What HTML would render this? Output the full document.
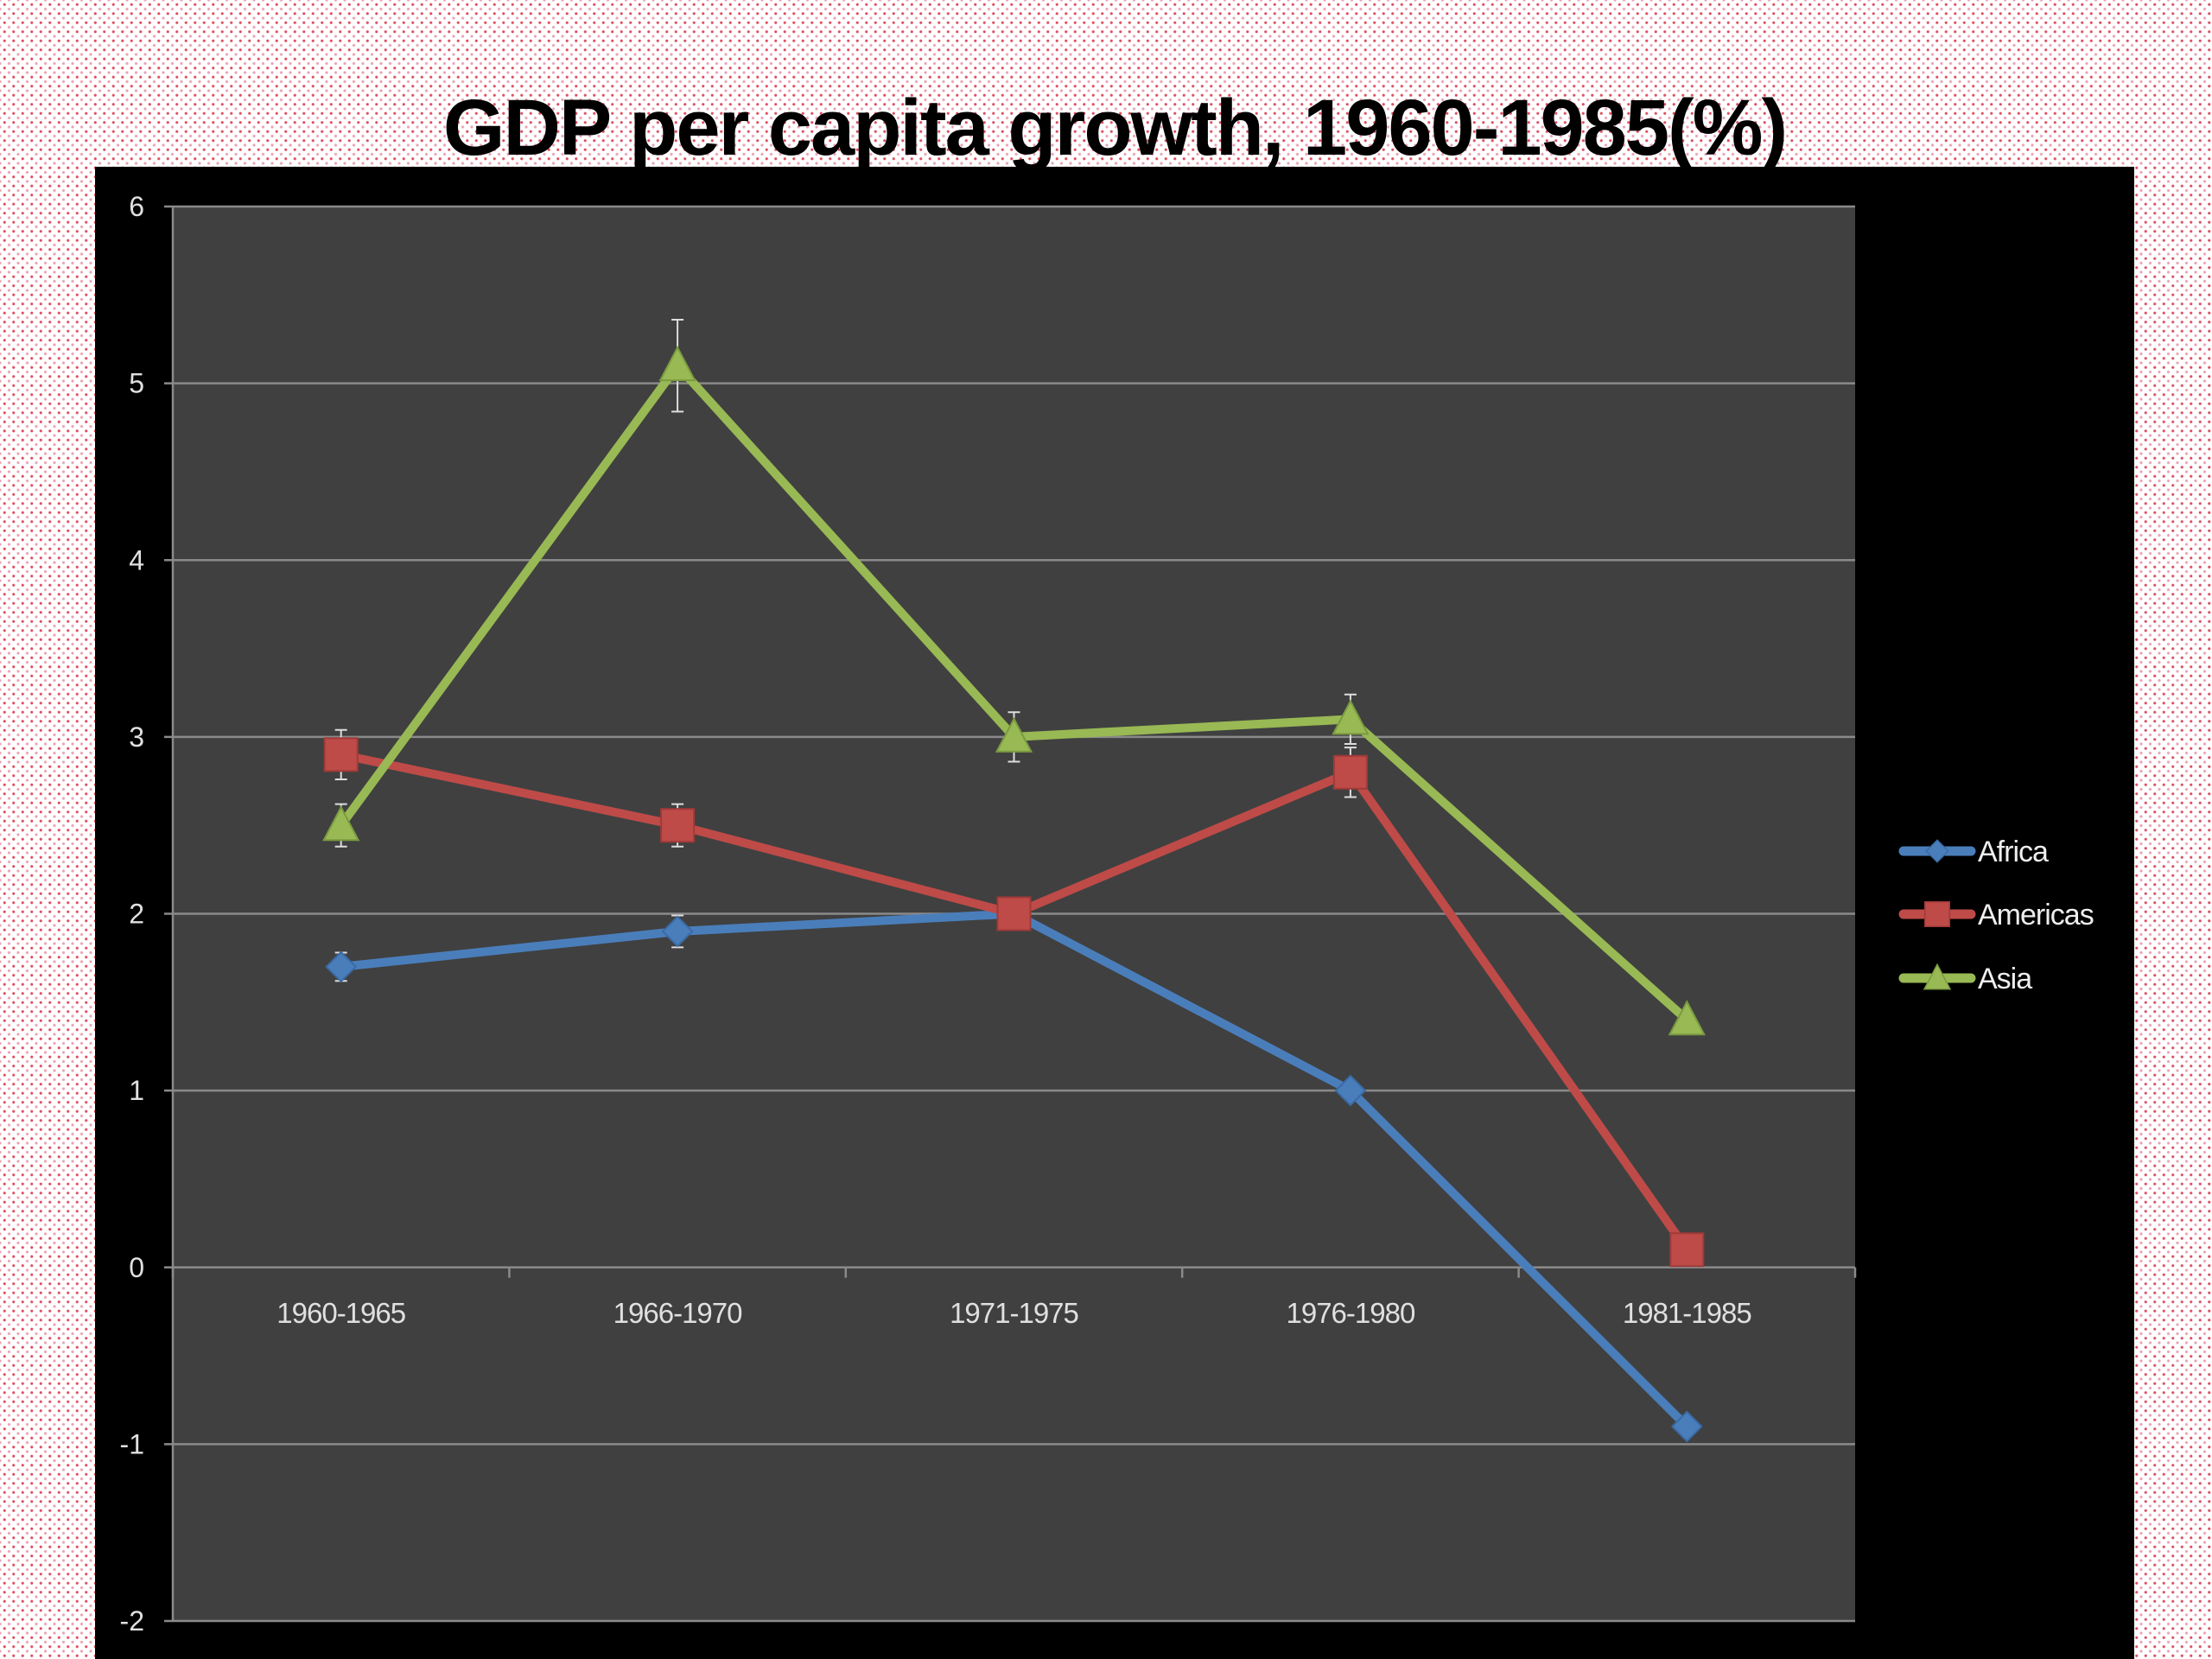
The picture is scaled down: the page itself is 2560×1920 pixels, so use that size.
<!DOCTYPE html>
<html><head><meta charset="utf-8"><style>
html,body{margin:0;padding:0}
body{width:2560px;height:1920px;position:relative;overflow:hidden;background-color:#fff;
background-image:radial-gradient(circle,#e05060 1.3px,transparent 1.9px),radial-gradient(circle,#e8a0b0 1.3px,transparent 1.9px);
background-size:10.5px 10.5px;background-position:0 0,5.25px 5.25px;}
#title{position:absolute;left:0;width:2580px;top:96px;text-align:center;font:bold 92px "Liberation Sans",sans-serif;color:#000;z-index:2;letter-spacing:-2px}
svg{position:absolute;left:0;top:0}
</style></head><body>
<div id="title">GDP per capita growth, 1960-1985(%)</div>
<svg id="chart" width="2560" height="1920"></svg>
<script>
const categories=["1960-1965","1966-1970","1971-1975","1976-1980","1981-1985"];
const africa=[1.7,1.9,2.0,1.0,-0.9];
const americas=[2.9,2.5,2.0,2.8,0.1];
const asia=[2.5,5.1,3.0,3.1,1.4];
const africaErr=[0.08,0.09,0,0,0];
const americasErr=[0.14,0.12,0,0.14,0];
const asiaErr=[0.12,0.26,0.14,0.14,0];
const yTicks=[-2,-1,0,1,2,3,4,5,6];
const seriesNames=["Africa","Americas","Asia"];

const NS="http://www.w3.org/2000/svg";
const svg=document.getElementById('chart');
const PL=200,PR=2147,PT=239,PB=1876,YMIN=-2,YMAX=6;
const y=v=>PT+(YMAX-v)/(YMAX-YMIN)*(PB-PT);
const bw=(PR-PL)/categories.length;
const x=i=>PL+bw*(i+0.5);
function el(t,a,p){const e=document.createElementNS(NS,t);for(const k in a)e.setAttribute(k,a[k]);(p||svg).appendChild(e);return e;}
function tx(s,a){const e=el('text',a);e.textContent=s;return e;}

const bg=el('rect',{x:110,y:193,width:2360,height:1727,fill:'#000'});


const pa=el('rect',{x:PL,y:PT,width:PR-PL,height:PB-PT,fill:'#404040'});



yTicks.forEach(v=>{
  const g=el('line',{x1:PL-10,x2:PR,y1:y(v),y2:y(v),stroke:'#8a8a8a','stroke-width':2.5});
  
  
  const t=tx(String(v),{x:167,y:y(v)+11,'text-anchor':'end',fill:'#e0e0e0','font-size':32,'font-family':'Liberation Sans, sans-serif'});
  
  
});
const ya=el('line',{x1:PL,x2:PL,y1:PT,y2:PB,stroke:'#8a8a8a','stroke-width':2.5});


for(let i=0;i<=categories.length;i++){
  const tk=el('line',{x1:PL+bw*i,x2:PL+bw*i,y1:y(0),y2:y(0)+12,stroke:'#8a8a8a','stroke-width':2.5});
  
  
}
categories.forEach((c,i)=>{
  const t=tx(c,{x:x(i),y:y(0)+64,'text-anchor':'middle',fill:'#e0e0e0','font-size':33,'font-family':'Liberation Sans, sans-serif','letter-spacing':-1});
  
  
});

const colors=['#4a7ebb','#be4b48','#98b954'];
const data=[africa,americas,asia];
const errs=[africaErr,americasErr,asiaErr];
function marker(k,cx,cy,g){
  if(k===0) return el('polygon',{points:`${cx},${cy-17} ${cx+17},${cy} ${cx},${cy+17} ${cx-17},${cy}`,fill:colors[0],stroke:'#3a6aa5','stroke-width':2},g);
  if(k===1) return el('rect',{x:cx-19,y:cy-19,width:38,height:38,fill:colors[1],stroke:'#a03a38','stroke-width':2},g);
  return el('polygon',{points:`${cx},${cy-21} ${cx+20},${cy+17} ${cx-20},${cy+17}`,fill:colors[2],stroke:'#7a9a40','stroke-width':2},g);
}
data.forEach((d,k)=>{
  const g=el('g',{});
  
  
  const ln=el('polyline',{points:d.map((v,i)=>x(i)+','+y(v)).join(' '),fill:'none',stroke:colors[k],'stroke-width':10,'stroke-linejoin':'miter'},g);
  
  
  d.forEach((v,i)=>{
    const e=errs[k][i];
    if(e>0){
      const eb=el('path',{d:`M${x(i)},${y(v+e)}V${y(v-e)}M${x(i)-7},${y(v+e)}h14M${x(i)-7},${y(v-e)}h14`,stroke:'#ddd','stroke-width':2,fill:'none'},g);
      
      
    }
    const m=marker(k,x(i),y(v),g);
    
    
  });
});

const ly=[985,1058,1132];
seriesNames.forEach((n,k)=>{
  const g=el('g',{});
  
  
  el('line',{x1:2203,x2:2281,y1:ly[k],y2:ly[k],stroke:colors[k],'stroke-width':11,'stroke-linecap':'round'},g);
  marker(k,2242,ly[k],g).setAttribute('transform',`translate(2242 ${ly[k]}) scale(0.75) translate(-2242 ${-ly[k]})`);
  const t=el('text',{x:2289,y:ly[k]+12,fill:'#eee','font-size':34,'font-family':'Liberation Sans, sans-serif','letter-spacing':-1},g);
  t.textContent=n;
});
</script>
</body></html>
